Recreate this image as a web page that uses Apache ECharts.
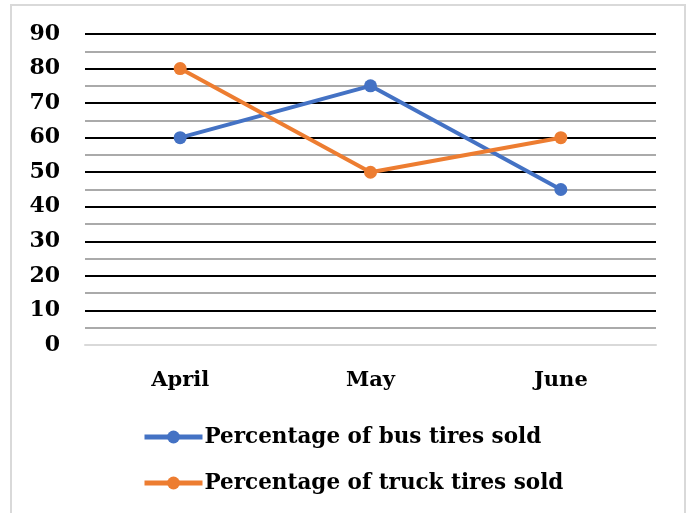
<!DOCTYPE html>
<html><head><meta charset="utf-8">
<script src="https://cdn.jsdelivr.net/npm/echarts@6/dist/echarts.min.js"></script>
<style>html,body{margin:0;padding:0;background:#fff}#c{width:689px;height:513px}</style>
</head><body><div id="c"></div>
<script>
const categories = ['April', 'May', 'June'];
const busTires = [60, 75, 45];
const truckTires = [80, 50, 60];
const seriesNames = ['Percentage of bus tires sold', 'Percentage of truck tires sold'];
const yTicks = [0, 10, 20, 30, 40, 50, 60, 70, 80, 90];

const font = '"DejaVu Serif", serif';
const chart = echarts.init(document.getElementById('c'));
chart.setOption({
  animation: false,
  backgroundColor: '#fff',
  graphic: [{
    type: 'rect', shape: { x: 11, y: 5, width: 674, height: 520 },
    style: { fill: 'none', stroke: '#d9d9d9', lineWidth: 2 }, z: -1
  }],
  grid: { left: 85, right: 33, top: 34, bottom: 168 },
  xAxis: {
    type: 'category', data: categories, boundaryGap: true,
    axisLine: { lineStyle: { color: '#d9d9d9', width: 2 } },
    axisTick: { show: false },
    axisLabel: { color: '#000', fontFamily: font, fontWeight: 'bold', fontSize: 21, margin: 25 }
  },
  yAxis: {
    type: 'value', min: yTicks[0], max: yTicks[yTicks.length - 1], interval: 10,
    axisLine: { show: false }, axisTick: { show: false },
    axisLabel: { color: '#000', fontFamily: font, fontWeight: 'bold', fontSize: 22, margin: 25 },
    splitLine: { lineStyle: { color: '#000', width: 2 } },
    minorTick: { show: false, splitNumber: 2 },
    minorSplitLine: { show: true, lineStyle: { color: '#aaaaaa', width: 2 } }
  },
  legend: {
    orient: 'vertical', left: 137, top: 421, itemGap: 24,
    itemWidth: 58, itemHeight: 16,
    lineStyle: { width: 5 },
    textStyle: { color: '#000', fontFamily: font, fontWeight: 'bold', fontSize: 21.5, padding: [0, 0, 0, -3] },
    data: seriesNames
  },
  series: [
    { name: seriesNames[0], type: 'line', data: busTires, color: '#4472C4',
      lineStyle: { width: 4 }, symbol: 'circle', symbolSize: 13, z: 3 },
    { name: seriesNames[1], type: 'line', data: truckTires, color: '#ED7D31',
      lineStyle: { width: 4 }, symbol: 'circle', symbolSize: 13, z: 4 }
  ]
});
</script></body></html>
